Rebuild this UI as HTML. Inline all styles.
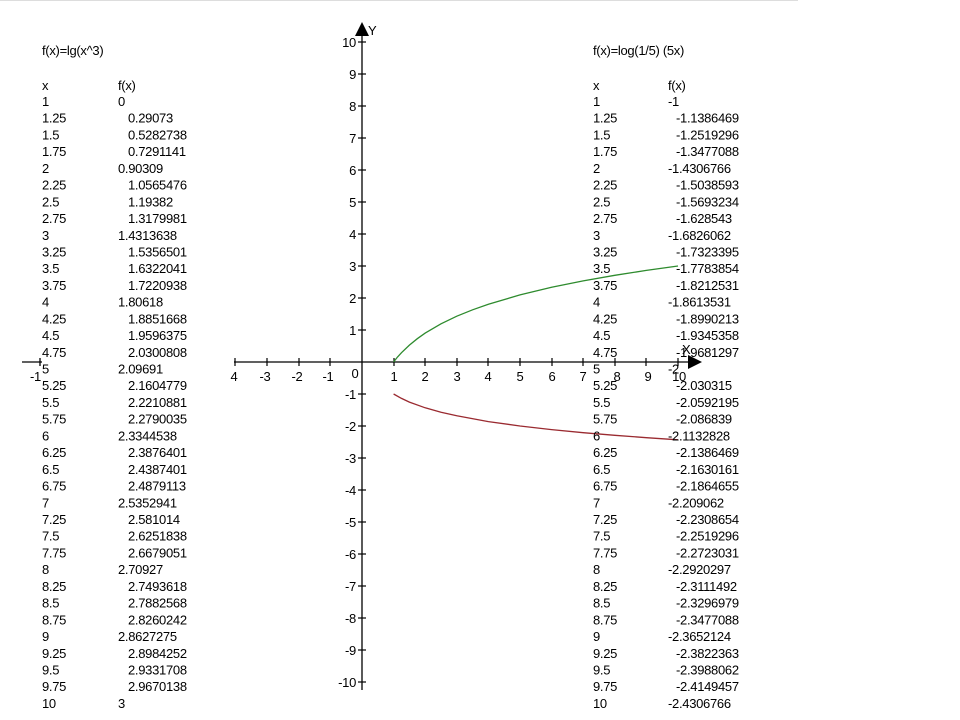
<!DOCTYPE html>
<html><head><meta charset="utf-8"><style>
html,body{margin:0;padding:0;background:#fff;}
svg{display:block;}
text{font-family:"Liberation Sans",Arial,sans-serif;font-size:13px;fill:#000;letter-spacing:-0.3px;}
</style></head><body>
<svg width="960" height="720" viewBox="0 0 960 720" xmlns="http://www.w3.org/2000/svg">
<rect width="960" height="720" fill="#fff"/>
<line x1="0" y1="0.5" x2="798" y2="0.5" stroke="#ddd"/>
<g stroke="#000" stroke-width="1.3">
<line x1="22" y1="362" x2="42" y2="362"/>
<line x1="40" y1="358" x2="40" y2="366"/>
<line x1="234" y1="362" x2="690" y2="362"/>
<line x1="362" y1="30" x2="362" y2="690"/>
</g>
<polygon points="688,355 702,362 688,369" fill="#000"/>
<polygon points="355,36 362,22 369,36" fill="#000"/>
<text x="368" y="35">Y</text>
<text x="682" y="354">X</text>
<text x="30" y="381">-1</text>
<g stroke="#000" stroke-width="1.2">
<line x1="235" y1="358" x2="235" y2="366"/>
<line x1="267" y1="358" x2="267" y2="366"/><line x1="299" y1="358" x2="299" y2="366"/><line x1="330" y1="358" x2="330" y2="366"/>
<line x1="394" y1="358" x2="394" y2="366"/><line x1="425" y1="358" x2="425" y2="366"/><line x1="457" y1="358" x2="457" y2="366"/><line x1="488" y1="358" x2="488" y2="366"/><line x1="520" y1="358" x2="520" y2="366"/><line x1="552" y1="358" x2="552" y2="366"/><line x1="583" y1="358" x2="583" y2="366"/><line x1="615" y1="358" x2="615" y2="366"/><line x1="646" y1="358" x2="646" y2="366"/><line x1="678" y1="358" x2="678" y2="366"/>
</g>
<g text-anchor="middle">
<text x="234" y="381">4</text><text x="265" y="381">-3</text><text x="297" y="381">-2</text><text x="328" y="381">-1</text>
<text x="355" y="378">0</text>
<text x="394" y="381">1</text><text x="425" y="381">2</text><text x="457" y="381">3</text><text x="488" y="381">4</text><text x="520" y="381">5</text><text x="552" y="381">6</text><text x="583" y="381">7</text><text x="617" y="381">8</text><text x="648" y="381">9</text><text x="679" y="381">10</text>
</g>
<g stroke="#000" stroke-width="1.2">
<line x1="358" y1="42" x2="366" y2="42"/><line x1="358" y1="74" x2="366" y2="74"/><line x1="358" y1="106" x2="366" y2="106"/><line x1="358" y1="138" x2="366" y2="138"/><line x1="358" y1="170" x2="366" y2="170"/><line x1="358" y1="202" x2="366" y2="202"/><line x1="358" y1="234" x2="366" y2="234"/><line x1="358" y1="266" x2="366" y2="266"/><line x1="358" y1="298" x2="366" y2="298"/><line x1="358" y1="330" x2="366" y2="330"/>
<line x1="358" y1="394" x2="366" y2="394"/><line x1="358" y1="426" x2="366" y2="426"/><line x1="358" y1="458" x2="366" y2="458"/><line x1="358" y1="490" x2="366" y2="490"/><line x1="358" y1="522" x2="366" y2="522"/><line x1="358" y1="554" x2="366" y2="554"/><line x1="358" y1="586" x2="366" y2="586"/><line x1="358" y1="618" x2="366" y2="618"/><line x1="358" y1="650" x2="366" y2="650"/><line x1="358" y1="682" x2="366" y2="682"/>
</g>
<g text-anchor="end">
<text x="356" y="47">10</text><text x="356" y="79">9</text><text x="356" y="111">8</text><text x="356" y="143">7</text><text x="356" y="175">6</text><text x="356" y="207">5</text><text x="356" y="239">4</text><text x="356" y="271">3</text><text x="356" y="303">2</text><text x="356" y="335">1</text>
<text x="356" y="399">-1</text><text x="356" y="431">-2</text><text x="356" y="463">-3</text><text x="356" y="495">-4</text><text x="356" y="527">-5</text><text x="356" y="559">-6</text><text x="356" y="591">-7</text><text x="356" y="623">-8</text><text x="356" y="655">-9</text><text x="356" y="687">-10</text>
</g>
<polyline fill="none" stroke="#2e8b2e" stroke-width="1.3" points="393.6,362 397.5,357 401.5,352.7 409.4,345.1 417.3,338.7 425.2,333.1 441,323.8 456.8,316.2 472.6,309.8 488.4,304.2 520,294.9 551.6,287.3 583.2,280.9 614.8,275.3 646.4,270.4 678,266"/>
<polyline fill="none" stroke="#9a2a30" stroke-width="1.3" points="393.6,394 401.5,398.4 409.4,402.1 425.2,407.8 441,412.2 456.8,415.8 488.4,421.6 520,426 551.6,429.6 583.2,432.7 614.8,435.3 646.4,437.7 678,439.8"/>
<text x="42" y="55">f(x)=lg(x^3)</text>
<text x="42" y="90">x</text><text x="118" y="90">f(x)</text>
<g>
<text x="42" y="106.0">1</text><text x="118" y="106.0">0</text>
<text x="42" y="122.7">1.25</text><text x="128" y="122.7">0.29073</text>
<text x="42" y="139.4">1.5</text><text x="128" y="139.4">0.5282738</text>
<text x="42" y="156.2">1.75</text><text x="128" y="156.2">0.7291141</text>
<text x="42" y="172.9">2</text><text x="118" y="172.9">0.90309</text>
<text x="42" y="189.6">2.25</text><text x="128" y="189.6">1.0565476</text>
<text x="42" y="206.3">2.5</text><text x="128" y="206.3">1.19382</text>
<text x="42" y="223.0">2.75</text><text x="128" y="223.0">1.3179981</text>
<text x="42" y="239.8">3</text><text x="118" y="239.8">1.4313638</text>
<text x="42" y="256.5">3.25</text><text x="128" y="256.5">1.5356501</text>
<text x="42" y="273.2">3.5</text><text x="128" y="273.2">1.6322041</text>
<text x="42" y="289.9">3.75</text><text x="128" y="289.9">1.7220938</text>
<text x="42" y="306.6">4</text><text x="118" y="306.6">1.80618</text>
<text x="42" y="323.4">4.25</text><text x="128" y="323.4">1.8851668</text>
<text x="42" y="340.1">4.5</text><text x="128" y="340.1">1.9596375</text>
<text x="42" y="356.8">4.75</text><text x="128" y="356.8">2.0300808</text>
<text x="42" y="373.5">5</text><text x="118" y="373.5">2.09691</text>
<text x="42" y="390.2">5.25</text><text x="128" y="390.2">2.1604779</text>
<text x="42" y="407.0">5.5</text><text x="128" y="407.0">2.2210881</text>
<text x="42" y="423.7">5.75</text><text x="128" y="423.7">2.2790035</text>
<text x="42" y="440.4">6</text><text x="118" y="440.4">2.3344538</text>
<text x="42" y="457.1">6.25</text><text x="128" y="457.1">2.3876401</text>
<text x="42" y="473.8">6.5</text><text x="128" y="473.8">2.4387401</text>
<text x="42" y="490.6">6.75</text><text x="128" y="490.6">2.4879113</text>
<text x="42" y="507.3">7</text><text x="118" y="507.3">2.5352941</text>
<text x="42" y="524.0">7.25</text><text x="128" y="524.0">2.581014</text>
<text x="42" y="540.7">7.5</text><text x="128" y="540.7">2.6251838</text>
<text x="42" y="557.4">7.75</text><text x="128" y="557.4">2.6679051</text>
<text x="42" y="574.2">8</text><text x="118" y="574.2">2.70927</text>
<text x="42" y="590.9">8.25</text><text x="128" y="590.9">2.7493618</text>
<text x="42" y="607.6">8.5</text><text x="128" y="607.6">2.7882568</text>
<text x="42" y="624.3">8.75</text><text x="128" y="624.3">2.8260242</text>
<text x="42" y="641.0">9</text><text x="118" y="641.0">2.8627275</text>
<text x="42" y="657.8">9.25</text><text x="128" y="657.8">2.8984252</text>
<text x="42" y="674.5">9.5</text><text x="128" y="674.5">2.9331708</text>
<text x="42" y="691.2">9.75</text><text x="128" y="691.2">2.9670138</text>
<text x="42" y="707.9">10</text><text x="118" y="707.9">3</text>
</g>
<text x="593" y="55">f(x)=log(1/5) (5x)</text>
<text x="593" y="90">x</text><text x="668" y="90">f(x)</text>
<g>
<text x="593" y="106.0">1</text><text x="668" y="106.0">-1</text>
<text x="593" y="122.7">1.25</text><text x="676" y="122.7">-1.1386469</text>
<text x="593" y="139.4">1.5</text><text x="676" y="139.4">-1.2519296</text>
<text x="593" y="156.2">1.75</text><text x="676" y="156.2">-1.3477088</text>
<text x="593" y="172.9">2</text><text x="668" y="172.9">-1.4306766</text>
<text x="593" y="189.6">2.25</text><text x="676" y="189.6">-1.5038593</text>
<text x="593" y="206.3">2.5</text><text x="676" y="206.3">-1.5693234</text>
<text x="593" y="223.0">2.75</text><text x="676" y="223.0">-1.628543</text>
<text x="593" y="239.8">3</text><text x="668" y="239.8">-1.6826062</text>
<text x="593" y="256.5">3.25</text><text x="676" y="256.5">-1.7323395</text>
<text x="593" y="273.2">3.5</text><text x="676" y="273.2">-1.7783854</text>
<text x="593" y="289.9">3.75</text><text x="676" y="289.9">-1.8212531</text>
<text x="593" y="306.6">4</text><text x="668" y="306.6">-1.8613531</text>
<text x="593" y="323.4">4.25</text><text x="676" y="323.4">-1.8990213</text>
<text x="593" y="340.1">4.5</text><text x="676" y="340.1">-1.9345358</text>
<text x="593" y="356.8">4.75</text><text x="676" y="356.8">-1.9681297</text>
<text x="593" y="373.5">5</text><text x="668" y="373.5">-2</text>
<text x="593" y="390.2">5.25</text><text x="676" y="390.2">-2.030315</text>
<text x="593" y="407.0">5.5</text><text x="676" y="407.0">-2.0592195</text>
<text x="593" y="423.7">5.75</text><text x="676" y="423.7">-2.086839</text>
<text x="593" y="440.4">6</text><text x="668" y="440.4">-2.1132828</text>
<text x="593" y="457.1">6.25</text><text x="676" y="457.1">-2.1386469</text>
<text x="593" y="473.8">6.5</text><text x="676" y="473.8">-2.1630161</text>
<text x="593" y="490.6">6.75</text><text x="676" y="490.6">-2.1864655</text>
<text x="593" y="507.3">7</text><text x="668" y="507.3">-2.209062</text>
<text x="593" y="524.0">7.25</text><text x="676" y="524.0">-2.2308654</text>
<text x="593" y="540.7">7.5</text><text x="676" y="540.7">-2.2519296</text>
<text x="593" y="557.4">7.75</text><text x="676" y="557.4">-2.2723031</text>
<text x="593" y="574.2">8</text><text x="668" y="574.2">-2.2920297</text>
<text x="593" y="590.9">8.25</text><text x="676" y="590.9">-2.3111492</text>
<text x="593" y="607.6">8.5</text><text x="676" y="607.6">-2.3296979</text>
<text x="593" y="624.3">8.75</text><text x="676" y="624.3">-2.3477088</text>
<text x="593" y="641.0">9</text><text x="668" y="641.0">-2.3652124</text>
<text x="593" y="657.8">9.25</text><text x="676" y="657.8">-2.3822363</text>
<text x="593" y="674.5">9.5</text><text x="676" y="674.5">-2.3988062</text>
<text x="593" y="691.2">9.75</text><text x="676" y="691.2">-2.4149457</text>
<text x="593" y="707.9">10</text><text x="668" y="707.9">-2.4306766</text>
</g>
</svg>
</body></html>
